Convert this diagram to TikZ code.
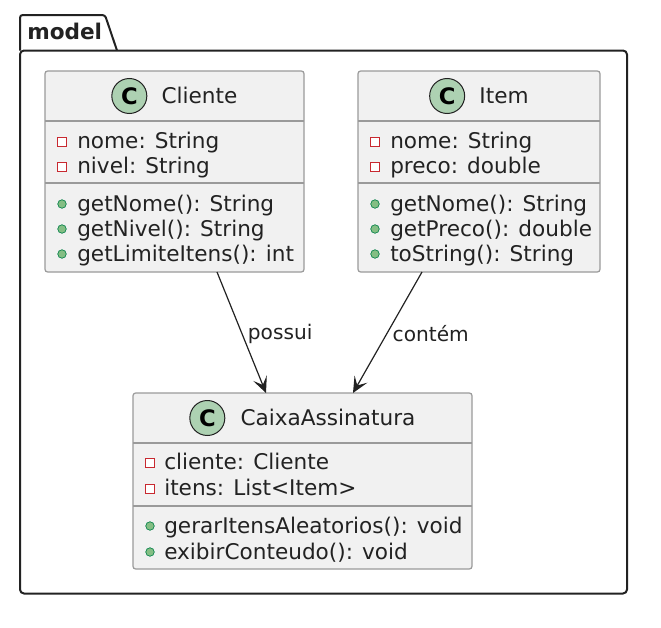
\documentclass[tikz,border=0pt]{standalone}
\usepackage{fontspec}
\setmainfont{DejaVu Sans}
\usetikzlibrary{calc,arrows.meta}

\definecolor{boxfill}{HTML}{F1F1F1}
\definecolor{boxline}{HTML}{9A9A9A}
\definecolor{spotgreen}{HTML}{ADD1B2}
\definecolor{privred}{HTML}{C82930}
\definecolor{publfill}{HTML}{84BE84}
\definecolor{publline}{HTML}{038048}
\definecolor{ink}{HTML}{222222}

\newcommand{\membfont}{\fontsize{16.2}{19}\selectfont}
\newcommand{\lblfont}{\fontsize{15.1}{18}\selectfont}
\newcommand{\spotfont}{\fontsize{17}{20}\selectfont\bfseries}

\begin{document}
\begin{tikzpicture}[x=0.75pt,y=-0.75pt,
  classbox/.style={rectangle,draw=boxline,fill=boxfill,line width=0.9pt,rounded corners=2pt,inner sep=0pt,outer sep=0pt},
  member/.style={anchor=base west,inner sep=0pt,text=ink,font=\membfont},
  classname/.style={anchor=base,inner sep=0pt,text=ink,font=\membfont},
  spot/.style={circle,draw=ink,fill=spotgreen,line width=0.75pt,minimum size=35*0.75pt,inner sep=0pt,font=\spotfont},
  priv/.style={rectangle,draw=privred,fill=white,line width=0.75pt,minimum size=9*0.75pt,inner sep=0pt},
  publ/.style={circle,draw=publline,fill=publfill,line width=0.5pt,minimum size=8.5*0.75pt,inner sep=0pt},
  assoc/.style={draw=ink,line width=0.9pt,-{Stealth[length=12pt,width=11pt,inset=5.5pt]}},
  lbl/.style={anchor=west,inner sep=0pt,xshift=4pt,text=ink,font=\lblfont}]

\useasboundingbox (0,0) rectangle (661,628);

% Package
\draw[ink,line width=1.5pt,rounded corners=2pt] (20,50.5) -- (20,15) -- (105,15) -- (117,50.5);
\draw[ink,line width=1.5pt,rounded corners=3pt] (20,50.5) -- (627,50.5) -- (627,593.5) -- (20,593.5) -- cycle;
\node (model) at (27,39.5) [anchor=base west,inner sep=0pt,text=ink,font=\membfont\bfseries] {model};

% Cliente
\node (cliente) at (174.5,171.5) [classbox,minimum width=259*0.75pt,minimum height=201*0.75pt] {};
\draw[boxline,line width=0.9pt] ($(cliente.north west)+(0,50)$) -- ($(cliente.north east)+(0,50)$);
\draw[boxline,line width=0.9pt] ($(cliente.north west)+(0,112)$) -- ($(cliente.north east)+(0,112)$);
\node (cliente title) at ($(cliente.north)+(25,32.5)$) [classname] {Cliente};
\node (cliente spot) at ($(cliente title.base west)+(-32,-7.5)$) [spot] {C};
\node[priv] at ($(cliente.north west)+(17,71)$) {};
\node[member] at ($(cliente.north west)+(32,77)$) {nome: String};
\node[priv] at ($(cliente.north west)+(17,96)$) {};
\node[member] at ($(cliente.north west)+(32,102)$) {nivel: String};
\node[publ] at ($(cliente.north west)+(17,133)$) {};
\node[member] at ($(cliente.north west)+(32,140)$) {getNome(): String};
\node[publ] at ($(cliente.north west)+(17,158)$) {};
\node[member] at ($(cliente.north west)+(32,165)$) {getNivel(): String};
\node[publ] at ($(cliente.north west)+(17,183)$) {};
\node[member] at ($(cliente.north west)+(32,190)$) {getLimiteItens(): int};

% Item
\node (item) at (479,171.5) [classbox,minimum width=242*0.75pt,minimum height=201*0.75pt] {};
\draw[boxline,line width=0.9pt] ($(item.north west)+(0,50)$) -- ($(item.north east)+(0,50)$);
\draw[boxline,line width=0.9pt] ($(item.north west)+(0,112)$) -- ($(item.north east)+(0,112)$);
\node (item title) at ($(item.north)+(25,32.5)$) [classname] {Item};
\node (item spot) at ($(item title.base west)+(-32,-7.5)$) [spot] {C};
\node[priv] at ($(item.north west)+(17,71)$) {};
\node[member] at ($(item.north west)+(32,77)$) {nome: String};
\node[priv] at ($(item.north west)+(17,96)$) {};
\node[member] at ($(item.north west)+(32,102)$) {preco: double};
\node[publ] at ($(item.north west)+(17,133)$) {};
\node[member] at ($(item.north west)+(32,140)$) {getNome(): String};
\node[publ] at ($(item.north west)+(17,158)$) {};
\node[member] at ($(item.north west)+(32,165)$) {getPreco(): double};
\node[publ] at ($(item.north west)+(17,183)$) {};
\node[member] at ($(item.north west)+(32,190)$) {toString(): String};

% CaixaAssinatura
\node (caixa) at (302.5,481) [classbox,minimum width=339*0.75pt,minimum height=176*0.75pt] {};
\draw[boxline,line width=0.9pt] ($(caixa.north west)+(0,50)$) -- ($(caixa.north east)+(0,50)$);
\draw[boxline,line width=0.9pt] ($(caixa.north west)+(0,113)$) -- ($(caixa.north east)+(0,113)$);
\node (caixa title) at ($(caixa.north)+(25.5,32.5)$) [classname] {CaixaAssinatura};
\node (caixa spot) at ($(caixa title.base west)+(-33,-7.5)$) [spot] {C};
\node[priv] at ($(caixa.north west)+(17,70)$) {};
\node[member] at ($(caixa.north west)+(31,76)$) {cliente: Cliente};
\node[priv] at ($(caixa.north west)+(17,96)$) {};
\node[member] at ($(caixa.north west)+(31,102)$) {itens: List<Item>};
\node[publ] at ($(caixa.north west)+(17,133)$) {};
\node[member] at ($(caixa.north west)+(31,140)$) {gerarItensAleatorios(): void};
\node[publ] at ($(caixa.north west)+(17,159)$) {};
\node[member] at ($(caixa.north west)+(31,166)$) {exibirConteudo(): void};

% Associations
\draw[assoc] ($(cliente.south west)+(172,0)$) -- node[lbl,pos=0.51] {possui} ($(caixa.north west)+(133,0)$);
\draw[assoc] ($(item.south west)+(64,0)$) -- node[lbl,pos=0.51] {contém} ($(caixa.north west)+(220,0)$);
\end{tikzpicture}
\end{document}
